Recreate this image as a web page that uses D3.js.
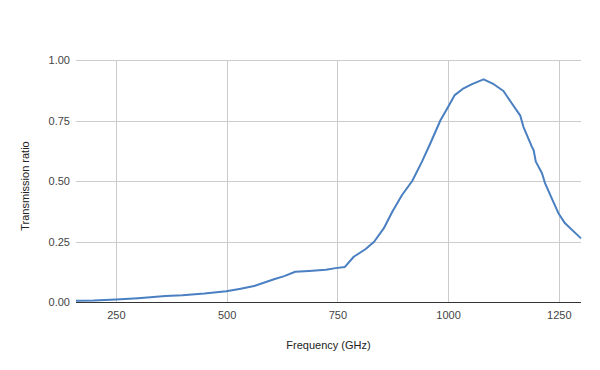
<!DOCTYPE html>
<html>
<head>
<meta charset="utf-8">
<script src="https://cdn.jsdelivr.net/npm/d3@7"></script>
<style>
  body { margin: 0; background: #fff; }
  text { font-family: "Liberation Sans", Arial, sans-serif; }
</style>
</head>
<body>
<div id="chart"></div>
<script>
// data
var freq = [160, 200, 250, 300, 362, 400, 450, 499, 529, 562, 607, 630, 655, 686, 724, 746, 767,
            787, 814, 833, 855, 874, 896, 919, 941, 960, 983, 998, 1015, 1035, 1054, 1080,
            1103, 1125, 1144, 1163, 1170, 1189, 1193, 1198, 1212, 1219, 1234, 1249, 1264, 1300];
var ratio = [0.005, 0.006, 0.01, 0.016, 0.025, 0.028, 0.035, 0.044, 0.054, 0.066, 0.094, 0.107, 0.125, 0.128, 0.133, 0.14, 0.145,
             0.187, 0.219, 0.249, 0.305, 0.373, 0.442, 0.5, 0.58, 0.656, 0.752, 0.8, 0.855, 0.883, 0.90, 0.92,
             0.90, 0.872, 0.82, 0.77, 0.724, 0.642, 0.628, 0.58, 0.532, 0.49, 0.428, 0.367, 0.325, 0.263];
var xTicks = [250, 500, 750, 1000, 1250];
var yTicks = [0, 0.25, 0.5, 0.75, 1];

var width = 600,
    height = 370;
var plotLeft = 76, plotRight = 581, plotTop = 60, plotBottom = 302;

var svg = d3.select("#chart").append("svg")
    .attr("width", width)
    .attr("height", height);

var x = d3.scaleLinear().domain([160, 1300]).range([plotLeft, plotRight]);
var y = d3.scaleLinear().domain([0, 1]).range([plotBottom, plotTop]);

var points = freq.map(function(f, i) { return [f, ratio[i]]; });

// grid lines
svg.append("g").selectAll("line")
    .data(yTicks.filter(function(d) { return d > 0; }))
  .enter().append("line")
    .attr("x1", plotLeft).attr("x2", plotRight)
    .attr("y1", function(d) { return Math.round(y(d)) + 0.5; })
    .attr("y2", function(d) { return Math.round(y(d)) + 0.5; })
    .attr("stroke", "#cccccc");

svg.append("g").selectAll("line")
    .data(xTicks)
  .enter().append("line")
    .attr("x1", function(d) { return Math.round(x(d)) + 0.5; })
    .attr("x2", function(d) { return Math.round(x(d)) + 0.5; })
    .attr("y1", plotTop).attr("y2", plotBottom)
    .attr("stroke", "#cccccc");

// axes (ticks hidden, labels only)
var xAxis = svg.append("g")
    .attr("transform", "translate(0," + plotBottom + ")")
    .call(d3.axisBottom(x).tickValues(xTicks).tickSize(0).tickPadding(9).tickFormat(d3.format("d")));
xAxis.select(".domain").remove();

var yAxis = svg.append("g")
    .attr("transform", "translate(" + plotLeft + ",0)")
    .call(d3.axisLeft(y).tickValues(yTicks).tickSize(0).tickPadding(6).tickFormat(d3.format(".2f")));
yAxis.select(".domain").remove();

svg.selectAll(".tick text")
    .attr("font-size", 11)
    .attr("font-family", "'Liberation Sans', Arial, sans-serif")
    .attr("fill", "#444");

// baseline
svg.append("line")
    .attr("x1", plotLeft).attr("x2", plotRight)
    .attr("y1", plotBottom + 0.5).attr("y2", plotBottom + 0.5)
    .attr("stroke", "#333333");

// the series
var line = d3.line()
    .x(function(d) { return x(d[0]); })
    .y(function(d) { return y(d[1]); });

svg.append("path")
    .datum(points)
    .attr("d", line)
    .attr("fill", "none")
    .attr("stroke", "#4a7fc1")
    .attr("stroke-width", 2)
    .attr("stroke-linejoin", "round");

// titles
svg.append("text")
    .attr("x", (plotLeft + plotRight) / 2)
    .attr("y", 349)
    .attr("text-anchor", "middle")
    .attr("font-size", 11)
    .attr("fill", "#222")
    .text("Frequency (GHz)");

svg.append("text")
    .attr("transform", "translate(29,186) rotate(-90)")
    .attr("text-anchor", "middle")
    .attr("font-size", 11)
    .attr("fill", "#222")
    .text("Transmission ratio");
</script>
</body>
</html>
